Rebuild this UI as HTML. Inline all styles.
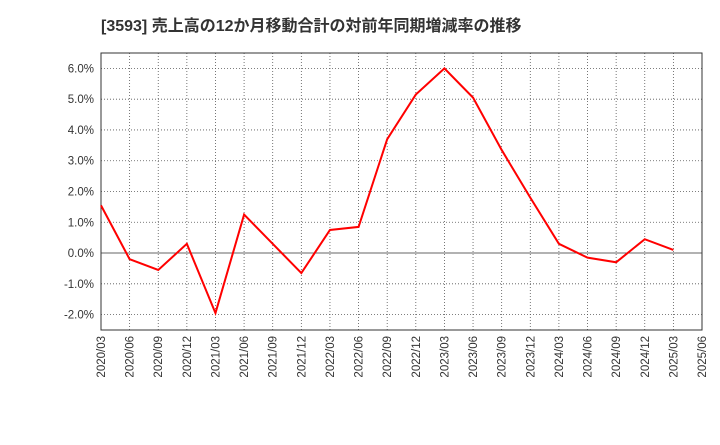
<!DOCTYPE html>
<html><head><meta charset="utf-8"><style>
body{margin:0;background:#fff;}
svg text{font-family:"Liberation Sans","Noto Sans CJK JP",sans-serif;}
</style></head><body>
<svg id="c" width="720" height="440" xmlns="http://www.w3.org/2000/svg">
<text x="101" y="31" font-size="16" font-weight="bold" fill="#333">[3593]  売上高の12か月移動合計の対前年同期増減率の推移</text>
<g id="grid"></g><g id="axes"></g><g id="series"></g>
</svg>
<script>
const categories=["2020/03","2020/06","2020/09","2020/12","2021/03","2021/06","2021/09","2021/12","2022/03","2022/06","2022/09","2022/12","2023/03","2023/06","2023/09","2023/12","2024/03","2024/06","2024/09","2024/12","2025/03","2025/06"];
const values=[1.55,-0.2,-0.55,0.3,-1.95,1.25,0.3,-0.65,0.75,0.85,3.7,5.15,6.0,5.05,3.35,1.8,0.3,-0.15,-0.3,0.45,0.1];
const yTicks=[-2,-1,0,1,2,3,4,5,6];
const yTickLabels=["-2.0%","-1.0%","0.0%","1.0%","2.0%","3.0%","4.0%","5.0%","6.0%"];
const L=101,R=702,T=53,B=330,yMin=-2.5,yMax=6.5;
const NS="http://www.w3.org/2000/svg";
const xs=i=>L+i*(R-L)/(categories.length-1);
const ys=v=>B-(v-yMin)/(yMax-yMin)*(B-T);
function mk(tag,attrs,parent){const e=document.createElementNS(NS,tag);for(const k in attrs)e.setAttribute(k,attrs[k]);document.getElementById(parent).appendChild(e);return e;}
yTicks.forEach((t,i)=>{
 const g=mk("line",{x1:L,x2:R,y1:ys(t),y2:ys(t),stroke:t===0?"#666":"#555","stroke-width":t===0?1:0.8,"stroke-dasharray":t===0?"":"1,2"},"grid");
 
 
 const tx=mk("text",{x:L-7,y:ys(t)+4,"text-anchor":"end","font-size":11.5,fill:"#333"},"axes");
 tx.textContent=yTickLabels[i];
 
 
});
categories.forEach((c,i)=>{
 const x=xs(i);
 if(i>0&&i<categories.length-1){const g=mk("line",{x1:x,x2:x,y1:T,y2:B,stroke:"#555","stroke-width":0.8,"stroke-dasharray":"1,2"},"grid");
 
 }
 const tx=mk("text",{x:0,y:0,"text-anchor":"end","font-size":11.5,fill:"#333",transform:`translate(${x+4},${B+6}) rotate(-90)`},"axes");
 tx.textContent=c;
 
 
});
const frame=mk("rect",{x:L,y:T,width:R-L,height:B-T,fill:"none",stroke:"#333","stroke-width":1},"axes");


const line=mk("polyline",{points:values.map((v,i)=>xs(i)+","+ys(v)).join(" "),fill:"none",stroke:"#f00","stroke-width":2},"series");


</script>
</body></html>
